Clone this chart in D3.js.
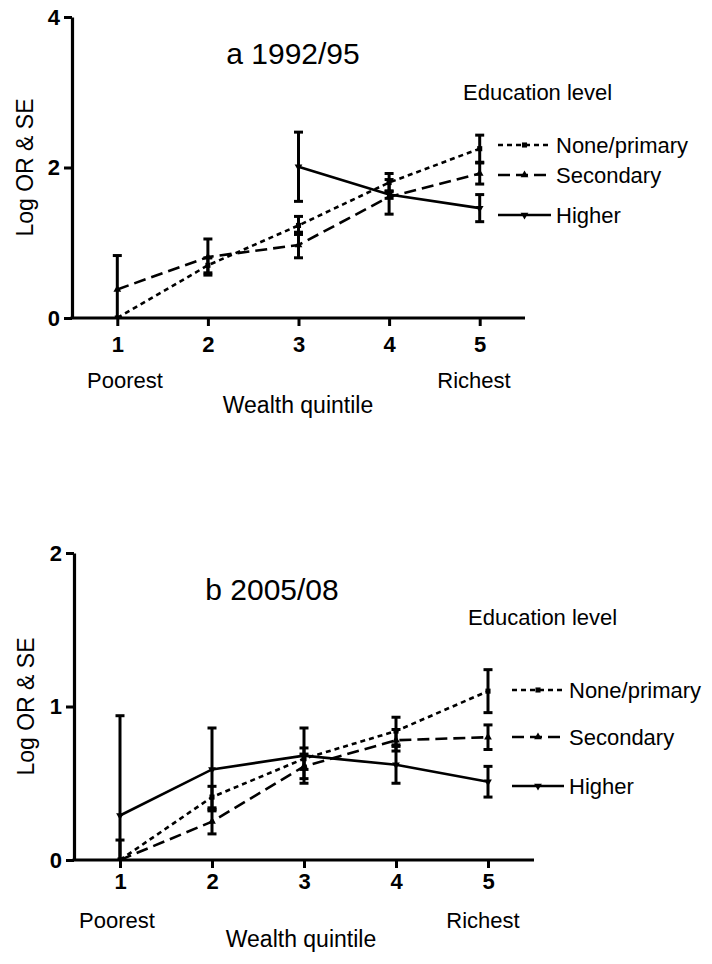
<!DOCTYPE html>
<html>
<head>
<meta charset="utf-8">
<script src="https://cdn.jsdelivr.net/npm/d3@7"></script>
<style>
  body { margin: 0; background: #fff; }
  svg { display: block; font-family: "Liberation Sans", Arial, sans-serif; }
</style>
</head>
<body>
<svg id="chart" width="712" height="964"></svg>
<script>
// quintiles and series names
const quintiles = [1, 2, 3, 4, 5];
const seriesNames = ["None/primary", "Secondary", "Higher"];

// panel a 1992/95 : log OR and SE per quintile
const aNone = [0, 0.70, 1.23, 1.80, 2.25];
const aNoneSE = [0, 0.10, 0.12, 0.12, 0.18];
const aSec = [0.38, 0.81, 0.97, 1.61, 1.92];
const aSecSE = [0.45, 0.24, 0.17, 0.23, 0.14];
const aHigh = [null, null, 2.01, 1.64, 1.46];
const aHighSE = [null, null, 0.46, 0.05, 0.18];
const aTicks = [0, 2, 4];

// panel b 2005/08
const bNone = [0, 0.41, 0.66, 0.84, 1.10];
const bNoneSE = [0, 0.07, 0.07, 0.09, 0.14];
const bSec = [0, 0.25, 0.61, 0.78, 0.80];
const bSecSE = [0.13, 0.08, 0.08, 0.07, 0.08];
const bHigh = [0.29, 0.59, 0.68, 0.62, 0.51];
const bHighSE = [0.65, 0.27, 0.18, 0.12, 0.10];
const bTicks = [0, 1, 2];

// line styles / markers per series
const dashes = ["5,4", "12,6", null];
const symbols = [d3.symbolSquare, d3.symbolTriangle, d3.symbolTriangle];
const symbolRotate = [0, 0, 180];

const svg = d3.select("#chart");

function drawPanel(cfg) {
  const g = svg.append("g");

  const x = d3.scaleLinear().domain([0.5, 5.5]).range([cfg.left, cfg.right]);
  const y = d3.scaleLinear().domain([0, cfg.ymax]).range([cfg.bottom, cfg.top]);

  const clipId = "clip" + cfg.id;
  svg.append("clipPath").attr("id", clipId)
    .append("rect")
    .attr("x", cfg.left).attr("y", cfg.top - 10)
    .attr("width", cfg.right - cfg.left + 10)
    .attr("height", cfg.bottom - cfg.top + 10);

  const series = cfg.values.map(function(vals, i) {
    return {
      name: seriesNames[i],
      idx: i,
      pts: quintiles.map(function(q, j) {
        return {q: q, v: vals[j], se: cfg.ses[i][j]};
      }).filter(function(d) { return d.v != null; })
    };
  });

  const plot = g.append("g").attr("clip-path", "url(#" + clipId + ")");

  // error bars
  series.forEach(function(s) {
    const eb = plot.append("g").selectAll("g")
      .data(s.pts.filter(function(d) { return d.se > 0; }))
      .enter().append("g");
    eb.append("line")
      .attr("x1", function(d) { return x(d.q); })
      .attr("x2", function(d) { return x(d.q); })
      .attr("y1", function(d) { return y(d.v - d.se); })
      .attr("y2", function(d) { return y(d.v + d.se); })
      .attr("stroke", "#000").attr("stroke-width", 3);
    [-1, 1].forEach(function(sgn) {
      eb.append("line")
        .attr("x1", function(d) { return x(d.q) - 4.5; })
        .attr("x2", function(d) { return x(d.q) + 4.5; })
        .attr("y1", function(d) { return y(d.v + sgn * d.se); })
        .attr("y2", function(d) { return y(d.v + sgn * d.se); })
        .attr("stroke", "#000").attr("stroke-width", 3);
    });
  });

  // lines
  const line = d3.line()
    .x(function(d) { return x(d.q); })
    .y(function(d) { return y(d.v); });

  series.forEach(function(s) {
    plot.append("path")
      .datum(s.pts)
      .attr("d", line)
      .attr("fill", "none")
      .attr("stroke", "#000")
      .attr("stroke-width", 2.6)
      .attr("stroke-dasharray", dashes[s.idx]);

    plot.append("g").selectAll("path")
      .data(s.pts)
      .enter().append("path")
      .attr("d", d3.symbol().type(symbols[s.idx]).size(26))
      .attr("transform", function(d) {
        return "translate(" + x(d.q) + "," + y(d.v) + ") rotate(" + symbolRotate[s.idx] + ")";
      })
      .attr("fill", "#000");
  });

  // axes
  const yAxis = g.append("g")
    .attr("transform", "translate(" + cfg.left + ",0)")
    .call(d3.axisLeft(y).tickValues(cfg.ticks).tickSize(8).tickSizeOuter(0).tickPadding(4).tickFormat(d3.format("d")));
  const xAxis = g.append("g")
    .attr("transform", "translate(0," + cfg.bottom + ")")
    .call(d3.axisBottom(x).tickValues(quintiles).tickSize(8).tickSizeOuter(0).tickPadding(cfg.xPad).tickFormat(d3.format("d")));

  [yAxis, xAxis].forEach(function(ax) {
    ax.select(".domain").attr("stroke-width", 3.2);
    ax.selectAll(".tick line").attr("stroke-width", 3);
    ax.selectAll(".tick text")
      .attr("font-size", "22px")
      .attr("font-weight", "bold")
      .attr("font-family", "'Liberation Sans', Arial, sans-serif");
  });
  xAxis.select(".domain").attr("d", "M" + (cfg.left - 1.5) + ",0H" + cfg.right);

  // texts
  g.append("text")
    .attr("x", cfg.titleX).attr("y", cfg.titleY)
    .attr("text-anchor", "middle")
    .attr("font-size", "30px")
    .text(cfg.title);

  g.append("text")
    .attr("transform", "translate(" + cfg.yLabelX + "," + y(cfg.ymax / 2) + ") rotate(-90)")
    .attr("text-anchor", "middle")
    .attr("font-size", "23px")
    .text("Log OR & SE");

  g.append("text")
    .attr("x", cfg.poorX).attr("y", cfg.endY)
    .attr("text-anchor", "middle")
    .attr("font-size", "22px")
    .text("Poorest");
  g.append("text")
    .attr("x", cfg.richX).attr("y", cfg.endY)
    .attr("text-anchor", "middle")
    .attr("font-size", "22px")
    .text("Richest");
  g.append("text")
    .attr("x", cfg.xLabelX).attr("y", cfg.xLabelY)
    .attr("text-anchor", "middle")
    .attr("font-size", "23px")
    .text("Wealth quintile");

  // legend
  const leg = g.append("g");
  leg.append("text")
    .attr("x", cfg.legX).attr("y", cfg.legTitleY)
    .attr("font-size", "22px")
    .text("Education level");

  const item = leg.selectAll("g.item")
    .data(seriesNames)
    .enter().append("g")
    .attr("class", "item")
    .attr("transform", function(d, i) { return "translate(0," + cfg.legY[i] + ")"; });
  item.append("line")
    .attr("x1", cfg.legLine[0]).attr("x2", cfg.legLine[1])
    .attr("y1", 0).attr("y2", 0)
    .attr("stroke", "#000").attr("stroke-width", 2.6)
    .attr("stroke-dasharray", function(d, i) { return dashes[i]; });
  item.append("path")
    .attr("d", function(d, i) { return d3.symbol().type(symbols[i]).size(26)(); })
    .attr("transform", function(d, i) {
      return "translate(" + ((cfg.legLine[0] + cfg.legLine[1]) / 2) + ",0) rotate(" + symbolRotate[i] + ")";
    })
    .attr("fill", "#000");
  item.append("text")
    .attr("x", cfg.legLine[1] + 5)
    .attr("y", 0)
    .attr("dy", "0.36em")
    .attr("font-size", "22px")
    .text(function(d) { return d; });
}

drawPanel({
  id: "a", title: "a 1992/95",
  values: [aNone, aSec, aHigh], ses: [aNoneSE, aSecSE, aHighSE],
  ticks: aTicks, ymax: 4,
  left: 72, right: 525, top: 17, bottom: 318, xPad: 10,
  titleX: 293, titleY: 64, yLabelX: 33,
  poorX: 125, richX: 474, endY: 388, xLabelX: 298, xLabelY: 413,
  legX: 463, legTitleY: 100, legY: [145, 175, 215], legLine: [498, 551]
});

drawPanel({
  id: "b", title: "b 2005/08",
  values: [bNone, bSec, bHigh], ses: [bNoneSE, bSecSE, bHighSE],
  ticks: bTicks, ymax: 2,
  left: 74, right: 534, top: 553, bottom: 860, xPad: 5,
  titleX: 272, titleY: 600, yLabelX: 34,
  poorX: 117, richX: 483, endY: 928, xLabelX: 301, xLabelY: 947,
  legX: 468, legTitleY: 625, legY: [690, 737, 786], legLine: [512, 564]
});
</script>
</body>
</html>
